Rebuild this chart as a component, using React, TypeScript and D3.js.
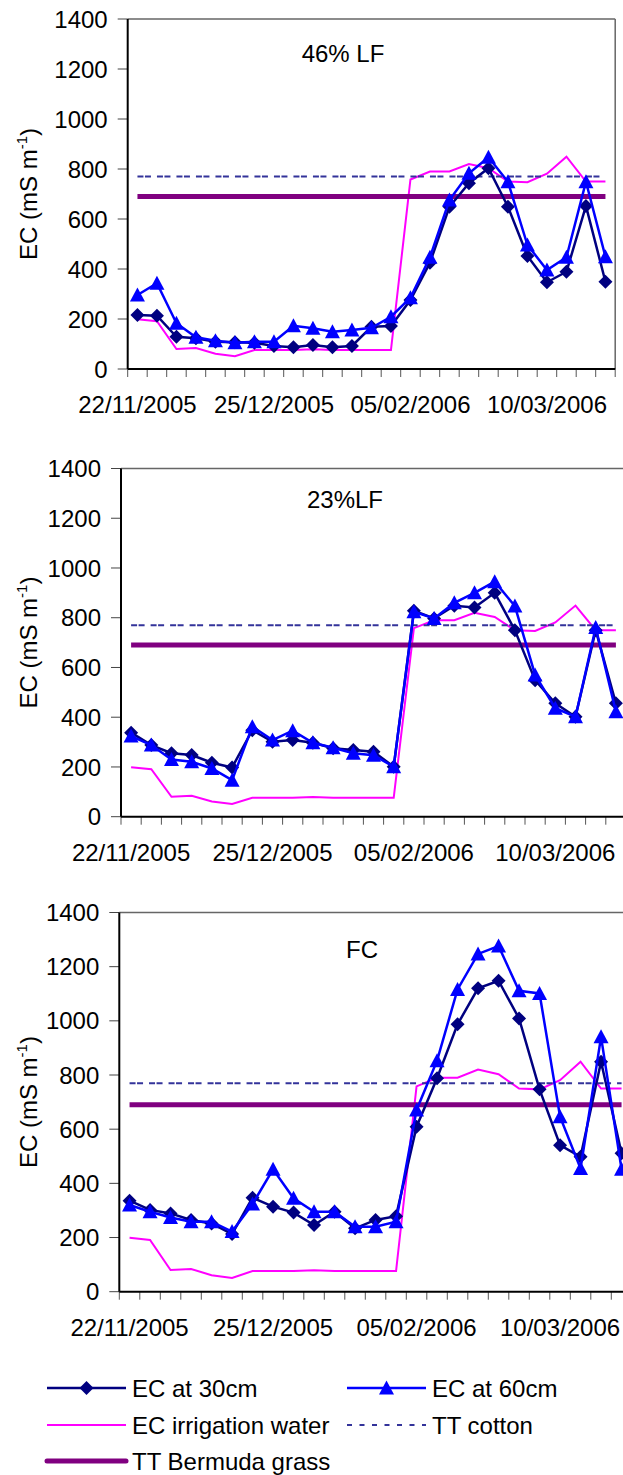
import React from 'react';
import * as d3 from 'd3';

// sampling occasions (25 per panel), only some carry a date label
const categories = d3.range(25);
const tickIndex = [0, 7, 14, 21];
const tickLabels = ['22/11/2005', '25/12/2005', '05/02/2006', '10/03/2006'];

// EC of irrigation water, same in every panel (mS m-1)
const irrigation = [199, 191, 80, 84, 61, 51, 76, 76, 76, 79, 76, 76, 76, 76, 758, 790, 790, 820, 803, 750, 747, 781, 849, 750, 750];
const ttCotton = 770;
const ttBermuda = 690;

// 46% LF
const ec30Lf46 = [216, 213, 129, 123, 109, 107, 105, 92, 87, 96, 87, 92, 169, 172, 276, 425, 649, 743, 803, 649, 452, 347, 389, 652, 349];
const ec60Lf46 = [296, 343, 183, 127, 113, 105, 109, 109, 173, 163, 149, 156, 165, 209, 285, 447, 676, 783, 847, 749, 496, 396, 447, 749, 449];

// 23% LF
const ec30Lf23 = [338, 288, 255, 248, 217, 198, 348, 301, 308, 297, 275, 268, 261, 201, 828, 797, 848, 841, 900, 750, 549, 456, 402, 750, 456];
const ec60Lf23 = [324, 288, 230, 221, 194, 147, 362, 308, 346, 297, 277, 255, 247, 201, 824, 797, 860, 900, 945, 847, 570, 436, 402, 761, 422];

// FC
const ec30Fc = [336, 302, 289, 265, 252, 213, 347, 314, 292, 246, 295, 234, 265, 279, 609, 788, 987, 1120, 1148, 1009, 747, 541, 498, 849, 511];
const ec60Fc = [320, 295, 274, 258, 258, 222, 324, 452, 345, 295, 295, 240, 240, 258, 671, 853, 1116, 1247, 1276, 1111, 1101, 646, 455, 941, 452];

const FONT = '"Liberation Sans", Arial, Helvetica, sans-serif';
const NAVY = '#000080';
const BLUE = '#0000ff';
const PINK = '#ff00ff';
const PURPLE = '#800080';
const COTTON = '#33339a';

const panels = [
  { left: 127.7, top: 19, width: 487.5, height: 350, label: '46% LF', lx: 343, ly: 61.5, ec30: ec30Lf46, ec60: ec60Lf46 },
  { left: 121, top: 468.5, width: 505, height: 348.2, label: '23%LF', lx: 345, ly: 508, ec30: ec30Lf23, ec60: ec60Lf23 },
  { left: 119.3, top: 912.5, width: 512.5, height: 379.2, label: 'FC', lx: 362, ly: 958, ec30: ec30Fc, ec60: ec60Fc },
];

const diamond = 'M0,-7L7,0L0,7L-7,0Z';
const triangle = 'M0,-7.5L7.5,6.5L-7.5,6.5Z';

function Panel({ cfg }: { cfg: typeof panels[0] }) {
  const bottom = cfg.top + cfg.height;
  const x = d3.scaleBand<number>().domain(categories).range([cfg.left, cfg.left + cfg.width]).padding(0);
  const y = d3.scaleLinear().domain([0, 1400]).range([bottom, cfg.top]);
  const cx = (i: number) => (x(i) as number) + x.bandwidth() / 2;
  const line = d3.line<number>().x((_, i) => cx(i)).y(d => y(d));
  const flat = (v: number) => categories.map(() => v);
  const xTicks = categories.map(i => x(i) as number).concat([cfg.left + cfg.width]);

  return (
    <g>
      {/* frame */}
      <line x1={cfg.left} x2={cfg.left + cfg.width} y1={cfg.top} y2={cfg.top} stroke="#666" strokeWidth={1.5} />
      <line x1={cfg.left + cfg.width} x2={cfg.left + cfg.width} y1={cfg.top} y2={bottom} stroke="#666" strokeWidth={1.5} />

      {/* y axis */}
      {y.ticks(7).map(t => (
        <g key={t}>
          <line x1={cfg.left - 10} x2={cfg.left} y1={y(t)} y2={y(t)} stroke="#444" strokeWidth={1} />
          <text x={cfg.left - 20} y={y(t)} dy="0.36em" textAnchor="end" fontSize={24}>{t}</text>
        </g>
      ))}
      <line x1={cfg.left} x2={cfg.left} y1={cfg.top} y2={bottom} stroke="#000" strokeWidth={2} />
      <text transform={`translate(37,${(cfg.top + bottom) / 2}) rotate(-90)`} textAnchor="middle" fontSize={24}>
        EC (mS m<tspan dy={-10} fontSize={15}>-1</tspan><tspan dy={10}>)</tspan>
      </text>

      {/* x axis */}
      {xTicks.map((t, i) => (
        <line key={i} x1={t} x2={t} y1={bottom} y2={bottom + 8} stroke="#555" strokeWidth={1} />
      ))}
      <line x1={cfg.left} x2={cfg.left + cfg.width} y1={bottom} y2={bottom} stroke="#000" strokeWidth={2} />
      {tickIndex.map((ti, k) => (
        <text key={ti} x={cx(ti)} y={bottom + 44} textAnchor="middle" fontSize={24}>{tickLabels[k]}</text>
      ))}

      {/* series */}
      <path d={line(irrigation) as string} fill="none" stroke={PINK} strokeWidth={2} />
      <path d={line(flat(ttCotton)) as string} fill="none" stroke={COTTON} strokeWidth={2} strokeDasharray="6,1.5,6,6" />
      <path d={line(flat(ttBermuda)) as string} fill="none" stroke={PURPLE} strokeWidth={5} />

      <path d={line(cfg.ec30) as string} fill="none" stroke={NAVY} strokeWidth={2.5} />
      {cfg.ec30.map((v, i) => (
        <path key={i} d={diamond} transform={`translate(${cx(i)},${y(v)})`} fill={NAVY} />
      ))}
      <path d={line(cfg.ec60) as string} fill="none" stroke={BLUE} strokeWidth={2.5} />
      {cfg.ec60.map((v, i) => (
        <path key={i} d={triangle} transform={`translate(${cx(i)},${y(v)})`} fill={BLUE} />
      ))}

      <text x={cfg.lx} y={cfg.ly} textAnchor="middle" fontSize={24}>{cfg.label}</text>
    </g>
  );
}

function Legend() {
  const rows = [1388, 1425, 1461];
  const col = [47, 347];
  const items = [
    { label: 'EC at 30cm', c: 0, r: 0, stroke: NAVY, w: 2.5, marker: diamond },
    { label: 'EC at 60cm', c: 1, r: 0, stroke: BLUE, w: 2.5, marker: triangle },
    { label: 'EC irrigation water', c: 0, r: 1, stroke: PINK, w: 2 },
    { label: 'TT cotton', c: 1, r: 1, stroke: COTTON, w: 2, dash: '5,7.5' },
    { label: 'TT Bermuda grass', c: 0, r: 2, stroke: PURPLE, w: 5 },
  ];
  return (
    <g>
      {items.map(it => {
        const x0 = col[it.c];
        const yy = rows[it.r];
        return (
          <g key={it.label}>
            <line x1={x0} x2={x0 + 79} y1={yy} y2={yy} stroke={it.stroke} strokeWidth={it.w}
              strokeDasharray={it.dash} strokeLinecap={it.w > 4 ? 'round' : 'butt'} />
            {it.marker && <path d={it.marker} transform={`translate(${x0 + 39.5},${yy})`} fill={it.stroke} />}
            <text x={x0 + 85} y={yy} dy="0.36em" fontSize={24}>{it.label}</text>
          </g>
        );
      })}
    </g>
  );
}

export default function App() {
  return (
    <svg width={623} height={1475} style={{ position: 'absolute', left: 0, top: 0, background: '#fff' }}
      fontFamily={FONT}>
      <rect width={623} height={1475} fill="#fff" />
      {panels.map(p => <Panel key={p.label} cfg={p} />)}
      <Legend />
    </svg>
  );
}
